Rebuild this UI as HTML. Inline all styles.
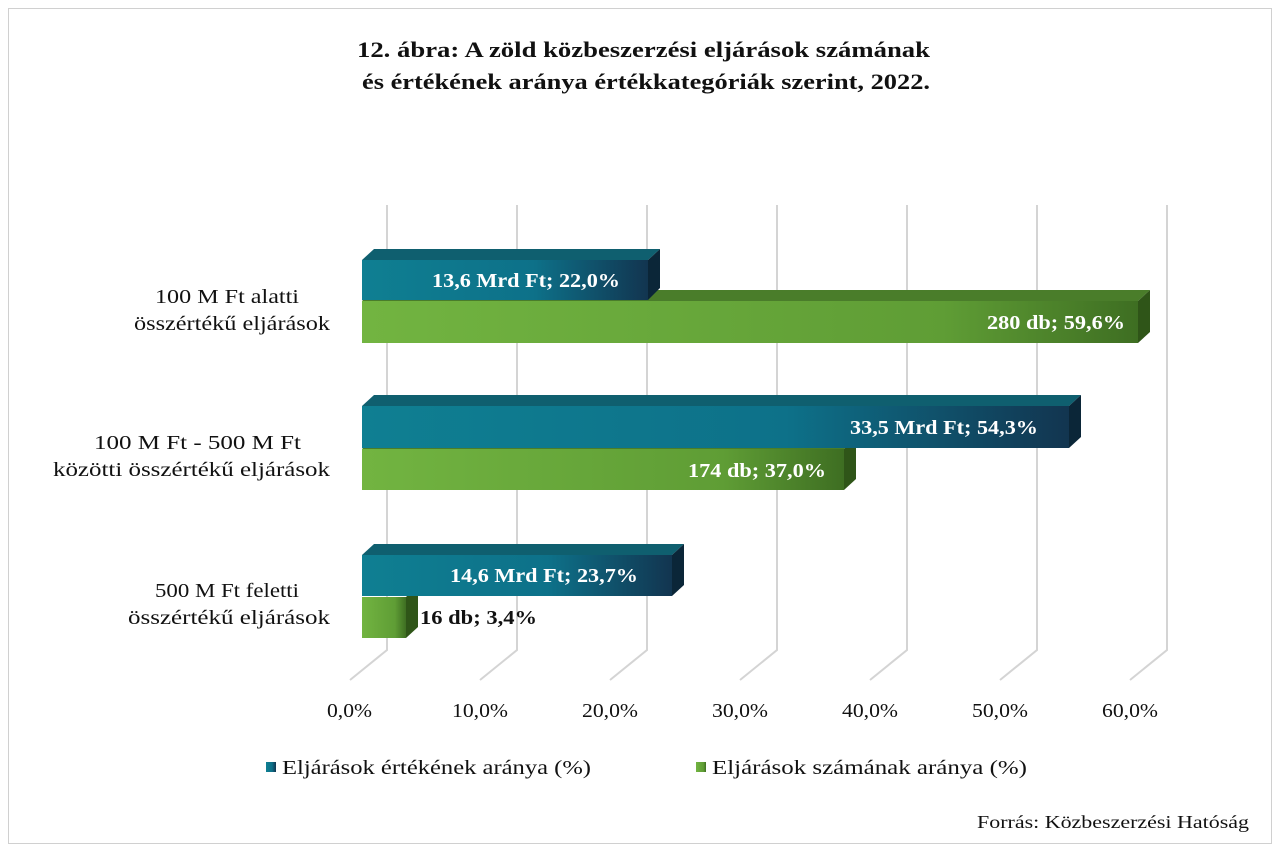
<!DOCTYPE html>
<html><head><meta charset="utf-8"><style>
body{margin:0;background:#fff}
svg{display:block;font-family:"Liberation Serif",serif}
</style></head><body>
<svg width="1280" height="852" viewBox="0 0 1280 852" xmlns="http://www.w3.org/2000/svg">
<defs>
<linearGradient id="bl" x1="0" x2="1" y1="0" y2="0">
<stop offset="0" stop-color="#0f7f92"/><stop offset="0.6" stop-color="#0d7189"/><stop offset="1" stop-color="#123550"/></linearGradient>
<linearGradient id="gr" x1="0" x2="1" y1="0" y2="0">
<stop offset="0" stop-color="#72b441"/><stop offset="0.75" stop-color="#5f9d35"/><stop offset="1" stop-color="#3e6e22"/></linearGradient>
</defs>
<rect x="8.5" y="8.5" width="1263" height="835" fill="#fff" stroke="#d0d0d0"/>
<g font-size="22" font-weight="bold" fill="#111" lengthAdjust="spacingAndGlyphs">
<text x="357" y="57" textLength="573" lengthAdjust="spacingAndGlyphs">12. ábra: A zöld közbeszerzési eljárások számának</text>
<text x="362" y="89" textLength="568" lengthAdjust="spacingAndGlyphs">és értékének aránya értékkategóriák szerint, 2022.</text>
</g>
<g stroke="#d4d4d4" stroke-width="2" fill="none">
<path d="M387 205V650L350 680"/><path d="M517 205V650L480 680"/><path d="M647 205V650L610 680"/><path d="M777 205V650L740 680"/><path d="M907 205V650L870 680"/><path d="M1037 205V650L1000 680"/><path d="M1167 205V650L1130 680"/>
</g>
<polygon points="362,301 374,290 1150,290 1138,301" fill="#4a7d2a"/>
<polygon points="1138,301 1150,290 1150,332 1138,343" fill="#2f5518"/>
<rect x="362" y="301" width="776" height="42" fill="url(#gr)"/>
<polygon points="362,260 374,249 660,249 648,260" fill="#0f5f6f"/>
<polygon points="648,260 660,249 660,288 648,300" fill="#0b2638"/>
<rect x="362" y="260" width="286" height="40" fill="url(#bl)"/>
<polygon points="362,449 374,438 856,438 844,449" fill="#4a7d2a"/>
<polygon points="844,449 856,438 856,479 844,490" fill="#2f5518"/>
<rect x="362" y="449" width="482" height="41" fill="url(#gr)"/>
<polygon points="362,406 374,395 1081,395 1069,406" fill="#0f5f6f"/>
<polygon points="1069,406 1081,395 1081,437 1069,448" fill="#0b2638"/>
<rect x="362" y="406" width="707" height="42" fill="url(#bl)"/>
<polygon points="406,597 418,586 418,627 406,638" fill="#2f5518"/>
<rect x="362" y="597" width="44" height="41" fill="url(#gr)"/>
<polygon points="362,555 374,544 684,544 672,555" fill="#0f5f6f"/>
<polygon points="672,555 684,544 684,585 672,596" fill="#0b2638"/>
<rect x="362" y="555" width="310" height="41" fill="url(#bl)"/>
<g font-size="20" font-weight="bold" fill="#fff">
<text x="432" y="287" textLength="188" lengthAdjust="spacingAndGlyphs">13,6 Mrd Ft; 22,0%</text>
<text x="987" y="329" textLength="138" lengthAdjust="spacingAndGlyphs">280 db; 59,6%</text>
<text x="850" y="434" textLength="188" lengthAdjust="spacingAndGlyphs">33,5 Mrd Ft; 54,3%</text>
<text x="688" y="477" textLength="138" lengthAdjust="spacingAndGlyphs">174 db; 37,0%</text>
<text x="450" y="582" textLength="188" lengthAdjust="spacingAndGlyphs">14,6 Mrd Ft; 23,7%</text>
<text x="420" y="624" fill="#111" textLength="117" lengthAdjust="spacingAndGlyphs">16 db; 3,4%</text>
</g>
<g font-size="20" fill="#111">
<text x="155" y="303" textLength="144" lengthAdjust="spacingAndGlyphs">100 M Ft alatti</text>
<text x="134" y="330" textLength="196" lengthAdjust="spacingAndGlyphs">összértékű  eljárások</text>
<text x="94" y="449" textLength="207" lengthAdjust="spacingAndGlyphs">100 M Ft - 500 M Ft</text>
<text x="53" y="476" textLength="277" lengthAdjust="spacingAndGlyphs">közötti összértékű eljárások</text>
<text x="155" y="597" textLength="144" lengthAdjust="spacingAndGlyphs">500 M Ft feletti</text>
<text x="128" y="624" textLength="202" lengthAdjust="spacingAndGlyphs">összértékű eljárások</text>
</g>
<g font-size="20" fill="#111">
<text x="327" y="717" textLength="45" lengthAdjust="spacingAndGlyphs">0,0%</text>
<text x="452" y="717" textLength="56" lengthAdjust="spacingAndGlyphs">10,0%</text>
<text x="582" y="717" textLength="56" lengthAdjust="spacingAndGlyphs">20,0%</text>
<text x="712" y="717" textLength="56" lengthAdjust="spacingAndGlyphs">30,0%</text>
<text x="842" y="717" textLength="56" lengthAdjust="spacingAndGlyphs">40,0%</text>
<text x="972" y="717" textLength="56" lengthAdjust="spacingAndGlyphs">50,0%</text>
<text x="1102" y="717" textLength="56" lengthAdjust="spacingAndGlyphs">60,0%</text>
</g>
<rect x="266" y="762" width="10" height="10" fill="url(#bl)"/>
<text x="282" y="774" font-size="20" fill="#111" textLength="309" lengthAdjust="spacingAndGlyphs">Eljárások értékének aránya (%)</text>
<rect x="696" y="762" width="10" height="10" fill="url(#gr)"/>
<text x="712" y="774" font-size="20" fill="#111" textLength="315" lengthAdjust="spacingAndGlyphs">Eljárások számának aránya (%)</text>
<text x="977" y="828" font-size="18" fill="#111" textLength="272" lengthAdjust="spacingAndGlyphs">Forrás: Közbeszerzési Hatóság</text>
</svg>
</body></html>
